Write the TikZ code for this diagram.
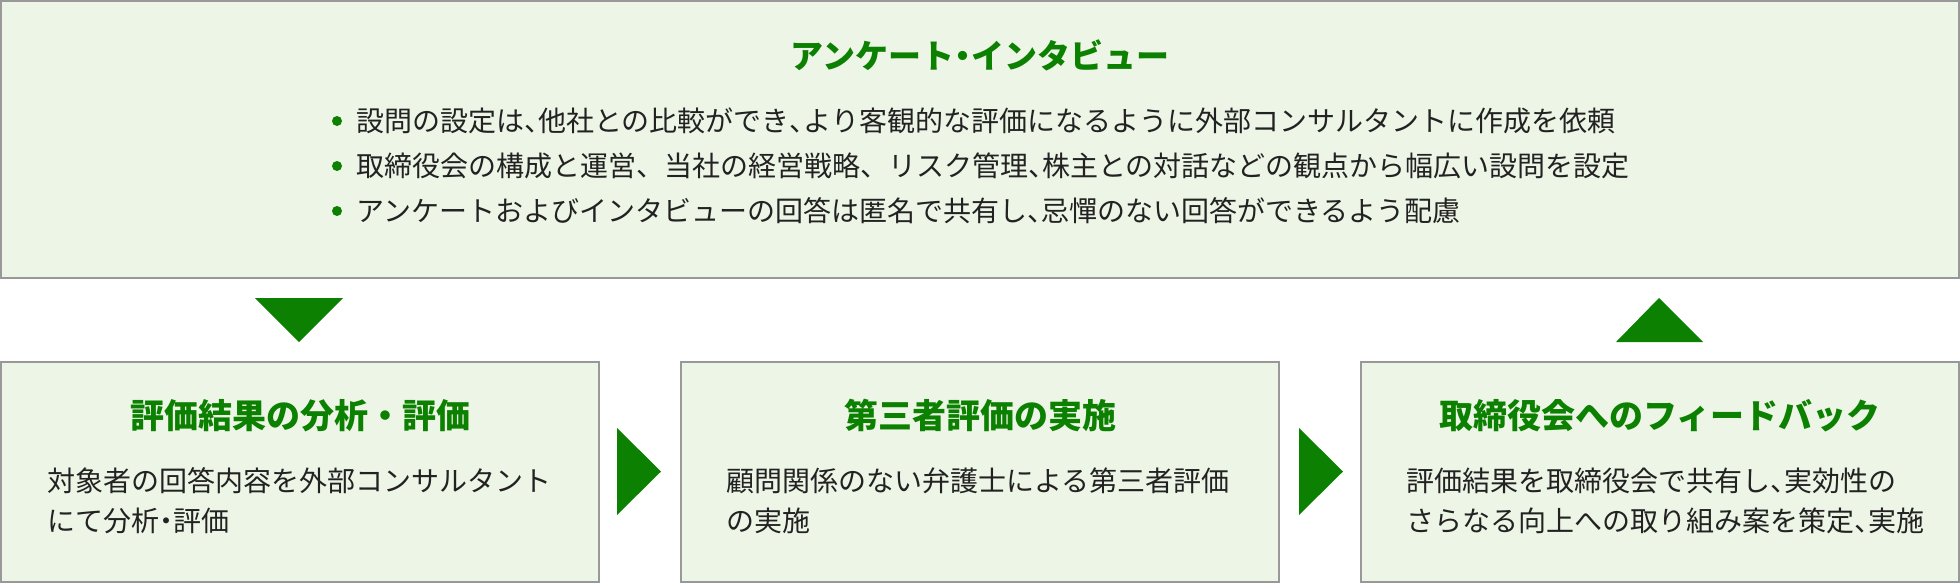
\documentclass[tikz,border=0pt]{standalone}
\usepackage{fontspec}
\setmainfont{Noto Sans CJK JP}
\definecolor{ggreen}{RGB}{12,128,0}
\definecolor{boxfill}{RGB}{237,245,230}
\definecolor{boxline}{RGB}{153,153,153}
\definecolor{txt}{RGB}{34,34,34}
\newcommand\tcm{\makebox[0.5em][l]{、}}
\newcommand\tdot{\makebox[0.5em][c]{・}}
\tikzset{
  panel/.style={draw=boxline, fill=boxfill, line width=2pt, inner sep=0pt, rectangle},
  ttl/.style={font=\fontsize{34}{34}\selectfont\bfseries, text=ggreen, inner sep=0pt, anchor=base},
  toptl/.style={ttl, font=\fontsize{33}{33}\selectfont\bfseries},
  body/.style={font=\fontsize{28}{28}\selectfont, text=txt, inner sep=0pt, anchor=base west},
  marker/.style={fill=ggreen, draw=none},
}
\begin{document}
\begin{tikzpicture}[x=1pt,y=-1pt]
\useasboundingbox (0,0) rectangle (1960,584);
% panels
\node[panel, minimum width=1958pt, minimum height=277pt] (top) at (980,139.5) {};
\node[panel, minimum width=598pt, minimum height=220pt] (p1) at (300,472) {};
\node[panel, minimum width=598pt, minimum height=220pt] (p2) at (980,472) {};
\node[panel, minimum width=598pt, minimum height=220pt] (p3) at (1660,472) {};
% top title and bullets
\node[toptl] (toptitle) at (980,68) {アンケート\tdot インタビュー};
\foreach \i/\yy in {1/121,2/166,3/211}{
  \fill[marker] (337,\yy) circle (5pt);
}
\node[body] (b1) at (356,131.6) {設問の設定は\tcm 他社との比較ができ\tcm より客観的な評価になるように外部コンサルタントに作成を依頼};
\node[body] (b2) at (356,176.6) {取締役会の構成と運営、当社の経営戦略、リスク管理\tcm 株主との対話などの観点から幅広い設問を設定};
\node[body] (b3) at (356,221.6) {アンケートおよびインタビューの回答は匿名で共有し\tcm 忌憚のない回答ができるよう配慮};
% bottom titles
\node[ttl] (t1) at (300,428.5) {評価結果の分析・評価};
\node[ttl] (t2) at (980,428.5) {第三者評価の実施};
\node[ttl] (t3) at (1660,428.5) {取締役会へのフィードバック};
% bottom body
\node[body] (d1a) at (47,491.6) {対象者の回答内容を外部コンサルタント};
\node[body] (d1b) at (47,531.6) {にて分析\tdot 評価};
\node[body] (d2a) at (726,491.6) {顧問関係のない弁護士による第三者評価};
\node[body] (d2b) at (726,531.6) {の実施};
\node[body] (d3a) at (1406,491.6) {評価結果を取締役会で共有し\tcm 実効性の};
\node[body] (d3b) at (1406,531.6) {さらなる向上への取り組み案を策定\tcm 実施};
% arrow markers
\fill[marker] (255,298) -- (343,298) -- (299,342) -- cycle;
\fill[marker] (1616,342) -- (1703,342) -- (1659,298) -- cycle;
\fill[marker] (617,428) -- (617,515) -- (661,471.5) -- cycle;
\fill[marker] (1299,428) -- (1299,515) -- (1343,471.5) -- cycle;
\end{tikzpicture}
\end{document}
